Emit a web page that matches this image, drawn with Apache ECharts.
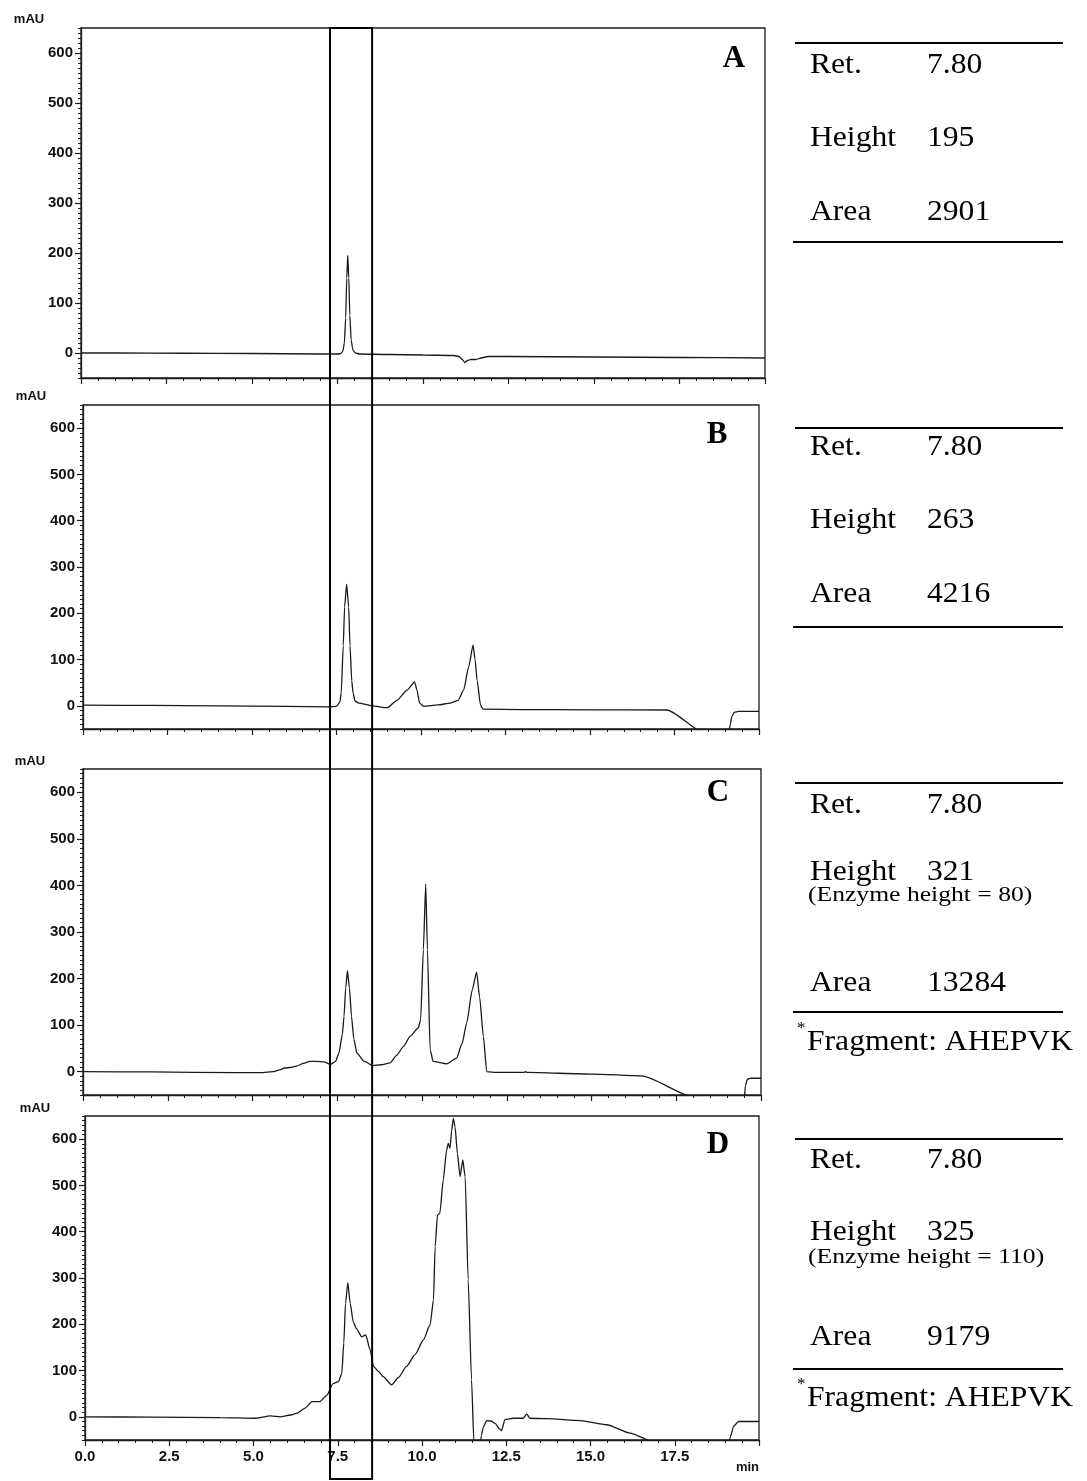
<!DOCTYPE html>
<html>
<head>
<meta charset="utf-8">
<script src="https://cdn.jsdelivr.net/npm/echarts@6/dist/echarts.min.js"></script>
<style>
  html, body { margin: 0; padding: 0; background: #ffffff; }
  #chart { width: 1087px; height: 1481px; }
</style>
</head>
<body>
<div id="chart"></div>
<script>
// HPLC traces, [retention time (min), absorbance (mAU)]
const traceA = [
  [0, 0], [1, 0], [3, -0.5], [5, -1], [7, -2], [7.5, -2], [7.6, -1], [7.66, 4], [7.7, 20],
  [7.74, 70], [7.77, 150], [7.8, 195], [7.83, 150], [7.86, 75], [7.9, 25], [7.95, 6],
  [8.02, 0], [8.15, -2], [9, -3], [10, -4], [10.9, -5], [11.05, -7], [11.15, -13],
  [11.22, -19], [11.3, -15], [11.4, -13], [11.55, -13], [11.7, -10], [11.9, -7],
  [12.5, -7], [15, -8], [17.5, -9], [20, -10]
];
const traceB = [
  [0, 1.5], [2, 1], [4, 0], [6, -1], [7.3, -2], [7.5, -1], [7.6, 8], [7.64, 28], [7.7, 130],
  [7.74, 214], [7.8, 263], [7.86, 214], [7.9, 130], [7.95, 55], [7.99, 28], [8.05, 10],
  [8.16, 6], [8.55, 0], [9.0, -4], [9.29, 12], [9.59, 34], [9.81, 52], [9.88, 34],
  [9.96, 6], [10.08, -1], [10.5, 2], [10.87, 6], [11.1, 12], [11.26, 34], [11.41, 84],
  [11.54, 131], [11.6, 100], [11.66, 55], [11.76, 2], [11.83, -7], [13, -8], [15, -8.5],
  [17.28, -9], [18.41, -60], [18.6, -64], [19.1, -64], [19.15, -40], [19.2, -22],
  [19.27, -14], [19.4, -12], [20, -12]
];
const traceC = [
  [0, 0], [2, -0.5], [4.5, -2], [5.3, -2], [5.6, 0], [5.8, 4], [5.95, 8], [6.1, 9],
  [6.3, 12], [6.5, 18], [6.7, 22], [6.9, 22], [7.1, 21], [7.3, 16], [7.45, 22], [7.55, 40],
  [7.65, 80], [7.7, 119], [7.75, 180], [7.8, 217], [7.86, 180], [7.92, 119], [7.99, 70],
  [8.08, 40], [8.3, 22], [8.55, 13], [8.8, 15], [9.06, 19], [9.25, 35], [9.45, 54],
  [9.65, 76], [9.89, 94], [9.96, 112], [10.04, 262], [10.11, 403], [10.16, 262],
  [10.24, 47], [10.33, 22], [10.73, 17], [11.02, 29], [11.18, 60], [11.32, 105],
  [11.48, 175], [11.61, 214], [11.7, 160], [11.81, 76], [11.91, 0], [12.2, -1.5],
  [13.0, -1.5], [13.05, 0], [13.1, -1.5], [15, -5], [16.48, -9], [18.06, -56],
  [18.3, -64], [19.5, -64], [19.54, -30], [19.6, -16], [19.7, -14], [20, -14]
];
const traceD = [
  [0, 0], [2, -0.5], [4, -1.5], [5.05, -3], [5.5, 2], [5.8, 0], [6.1, 4], [6.3, 8],
  [6.53, 19], [6.74, 33], [6.97, 33], [7.18, 47], [7.36, 72], [7.52, 76], [7.62, 94],
  [7.68, 160], [7.73, 245], [7.8, 290], [7.87, 245], [7.96, 205], [8.06, 190], [8.21, 173],
  [8.33, 177], [8.46, 145], [8.56, 109], [8.71, 98], [8.85, 87], [9.1, 69], [9.3, 85],
  [9.54, 109], [9.8, 135], [10.04, 166], [10.24, 199], [10.34, 252], [10.39, 368],
  [10.46, 436], [10.53, 440], [10.63, 512], [10.73, 576], [10.78, 591], [10.83, 580],
  [10.88, 619], [10.93, 645], [10.98, 627], [11.05, 569], [11.13, 519], [11.21, 555],
  [11.28, 519], [11.37, 296], [11.47, 80], [11.54, -53], [11.6, -70], [11.72, -70],
  [11.76, -40], [11.82, -22], [11.92, -8], [12.05, -9], [12.17, -14], [12.3, -26],
  [12.36, -30], [12.46, -6], [12.71, -3], [13.0, -3], [13.11, 6], [13.2, -3], [13.7, -4],
  [14.69, -8], [15.48, -17], [16.17, -35], [16.86, -54], [17.2, -64], [19.1, -64],
  [19.14, -45], [19.25, -20], [19.39, -10], [20, -10]
];

// Peak report for the product at 7.80 min in each run
const panelNames = ['A', 'B', 'C', 'D'];
const retTimes = ['7.80', '7.80', '7.80', '7.80'];
const peakHeights = ['195', '263', '321', '325'];
const enzymeHeights = [null, null, '80', '110'];
const peakAreas = ['2901', '4216', '13284', '9179'];
const fragments = [null, null, 'AHEPVK', 'AHEPVK'];

// Axis ticks
const yTickValues = [0, 100, 200, 300, 400, 500, 600];
const xTickLabels = ['0.0', '2.5', '5.0', '7.5', '10.0', '12.5', '15.0', '17.5'];

// Retention window highlighted across all four runs (min)
const windowRange = [7.27, 8.52];

const traces = [traceA, traceB, traceC, traceD];

// ---- layout ----
const grids = [
  { left: 81, top: 28, width: 684, height: 350 },
  { left: 83, top: 405, width: 676, height: 324 },
  { left: 83, top: 769, width: 678, height: 326 },
  { left: 85, top: 1116, width: 674, height: 324 }
];
const tableLayout = [
  { top: 43, ret: 65, height: 138, area: 212, bottom: 242 },
  { top: 428, ret: 447, height: 520, area: 594, bottom: 627 },
  { top: 783, ret: 805, height: 872, enzyme: 895, area: 983, bottom: 1012, fragment: 1042 },
  { top: 1139, ret: 1160, height: 1232, enzyme: 1257, area: 1337, bottom: 1369, fragment: 1398 }
];
const letterPos = [[734, 59], [717, 435], [718, 793], [718, 1145]];
const mauPos = [[29, 19], [31, 396], [30, 761], [35, 1108]];

const INK = '#1c1c1c';
const SANS = '"Liberation Sans", Arial, Helvetica, sans-serif';
const SERIF = '"Liberation Serif", "Times New Roman", Times, serif';

const chart = echarts.init(document.getElementById('chart'), null, { renderer: 'canvas' });

const xAxes = [];
const yAxes = [];
const series = [];

grids.forEach((g, i) => {
  xAxes.push({
    type: 'value', gridIndex: i, position: 'bottom', min: 0, max: 20, interval: 2.5,
    axisLine: { show: true, onZero: false, lineStyle: { color: INK, width: 1.3 } },
    axisTick: { show: true, length: 6, lineStyle: { color: INK, width: 1.2 } },
    minorTick: { show: true, splitNumber: 5, length: 3, lineStyle: { color: INK, width: 1 } },
    splitLine: { show: false },
    minorSplitLine: { show: false },
    axisLabel: {
      show: i === 3, margin: 9, color: '#111',
      fontFamily: SANS, fontWeight: 'bold', fontSize: 15,
      formatter: v => {
        const k = Math.round(v / 2.5);
        return xTickLabels[k] !== undefined && Math.abs(k * 2.5 - v) < 1e-6 ? xTickLabels[k] : '';
      }
    }
  });
  // fine ticks every 10 mAU
  yAxes.push({
    type: 'value', gridIndex: i, position: 'left', offset: 0, min: -50, max: 650, interval: 10,
    axisLine: { show: true, onZero: false, lineStyle: { color: INK, width: 1.3 } },
    axisTick: { show: true, length: 3, lineStyle: { color: INK, width: 1 } },
    axisLabel: { show: false },
    splitLine: { show: false }
  });
  // labelled ticks every 100 mAU
  yAxes.push({
    type: 'value', gridIndex: i, position: 'left', offset: 0, min: -50, max: 650,
    axisLine: { show: false },
    axisTick: { show: true, length: 6, customValues: yTickValues, lineStyle: { color: INK, width: 1.2 } },
    axisLabel: {
      show: true, customValues: yTickValues, margin: 8, color: '#111',
      fontFamily: SANS, fontWeight: 'bold', fontSize: 15
    },
    splitLine: { show: false }
  });
  series.push({
    type: 'line', xAxisIndex: i, yAxisIndex: 2 * i, data: traces[i],
    showSymbol: false, smooth: 0.2, smoothMonotone: 'x', clip: true,
    lineStyle: { color: '#1a1a1a', width: 1.3 }, animation: false
  });
});

chart.setOption({
  backgroundColor: '#ffffff',
  animation: false,
  grid: grids.map(g => Object.assign({ show: true, borderColor: INK, borderWidth: 1.3, containLabel: false }, g)),
  xAxis: xAxes,
  yAxis: yAxes,
  series: series
});

// ---- annotations ----
const graphics = [];

function txt(x, y, text, font, opts) {
  opts = opts || {};
  return {
    type: 'text', x: x, y: y, scaleX: opts.scaleX || 1, z: 20,
    style: { text: text, font: font, fill: opts.fill || '#000', align: opts.align || 'left', verticalAlign: 'middle' }
  };
}
function hline(x1, x2, y) {
  return { type: 'line', z: 20, shape: { x1: x1, y1: y, x2: x2, y2: y }, style: { stroke: '#000', lineWidth: 2 } };
}

const mainFont = '29px ' + SERIF;
const noteFont = '21px ' + SERIF;
const MAIN_SX = 1.09;

panelNames.forEach((name, i) => {
  // panel letter
  graphics.push(txt(letterPos[i][0], letterPos[i][1], name, 'bold 31px ' + SERIF, { align: 'center' }));
  // unit label
  graphics.push(txt(mauPos[i][0], mauPos[i][1], 'mAU', 'bold 13px ' + SANS, { align: 'center', fill: '#111' }));

  const t = tableLayout[i];
  graphics.push(hline(795, 1063, t.top));
  graphics.push(txt(810, t.ret, 'Ret.', mainFont, { scaleX: MAIN_SX }));
  graphics.push(txt(927, t.ret, retTimes[i], mainFont, { scaleX: MAIN_SX }));
  graphics.push(txt(810, t.height, 'Height', mainFont, { scaleX: MAIN_SX }));
  graphics.push(txt(927, t.height, peakHeights[i], mainFont, { scaleX: MAIN_SX }));
  if (enzymeHeights[i] !== null) {
    graphics.push(txt(808, t.enzyme, '(Enzyme height = ' + enzymeHeights[i] + ')', noteFont, { scaleX: 1.22 }));
  }
  graphics.push(txt(810, t.area, 'Area', mainFont, { scaleX: MAIN_SX }));
  graphics.push(txt(927, t.area, peakAreas[i], mainFont, { scaleX: MAIN_SX }));
  graphics.push(hline(793, 1063, t.bottom));
  if (fragments[i] !== null) {
    graphics.push(txt(797, t.fragment - 13, '*', '17px ' + SERIF));
    graphics.push(txt(807, t.fragment, 'Fragment: ' + fragments[i], mainFont, { scaleX: MAIN_SX }));
  }
});

// time unit under the last axis
const lastEnd = chart.convertToPixel({ xAxisIndex: 3 }, 20);
graphics.push(txt(lastEnd, 1467, 'min', 'bold 13px ' + SANS, { align: 'right', fill: '#111' }));

// retention window box spanning all runs
const bx1 = chart.convertToPixel({ xAxisIndex: 3 }, windowRange[0]);
const bx2 = chart.convertToPixel({ xAxisIndex: 3 }, windowRange[1]);
const byTop = chart.convertToPixel({ yAxisIndex: 0 }, 650);
graphics.push({
  type: 'rect', z: 30,
  shape: { x: bx1, y: byTop, width: bx2 - bx1, height: 1479 - byTop },
  style: { fill: 'none', stroke: '#000', lineWidth: 2 }
});

chart.setOption({ graphic: graphics });
</script>
</body>
</html>
